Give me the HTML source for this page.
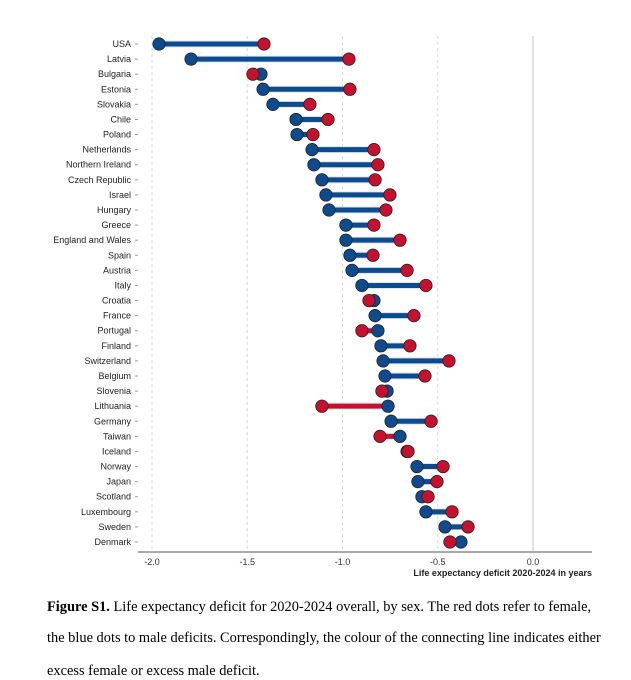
<!DOCTYPE html>
<html><head><meta charset="utf-8"><style>
body{margin:0;background:#fff;width:631px;height:677px;overflow:hidden;}
svg text{font-family:"Liberation Sans",sans-serif;}
.cap{position:absolute;left:47px;font-family:"Liberation Serif",serif;font-size:14.4px;color:#000;white-space:nowrap;}
</style></head><body>
<svg id="chart" width="631" height="590" style="position:absolute;left:0;top:0"></svg>
<div class="cap" style="top:599px"><b>Figure S1.</b> Life expectancy deficit for 2020-2024 overall, by sex. The red dots refer to female,</div>
<div class="cap" style="top:630px">the blue dots to male deficits. Correspondingly, the colour of the connecting line indicates either</div>
<div class="cap" style="top:663px">excess female or excess male deficit.</div>
<script>
const countries=["USA","Latvia","Bulgaria","Estonia","Slovakia","Chile","Poland","Netherlands","Northern Ireland","Czech Republic","Israel","Hungary","Greece","England and Wales","Spain","Austria","Italy","Croatia","France","Portugal","Finland","Switzerland","Belgium","Slovenia","Lithuania","Germany","Taiwan","Iceland","Norway","Japan","Scotland","Luxembourg","Sweden","Denmark"];
const male=[-1.963,-1.795,-1.428,-1.417,-1.365,-1.244,-1.239,-1.160,-1.150,-1.108,-1.087,-1.071,-0.982,-0.982,-0.961,-0.950,-0.898,-0.835,-0.829,-0.814,-0.798,-0.787,-0.777,-0.766,-0.761,-0.745,-0.698,-0.661,-0.609,-0.604,-0.583,-0.562,-0.462,-0.378];
const female=[-1.412,-0.966,-1.470,-0.961,-1.171,-1.076,-1.155,-0.835,-0.814,-0.829,-0.751,-0.772,-0.835,-0.698,-0.840,-0.661,-0.562,-0.861,-0.625,-0.898,-0.646,-0.441,-0.567,-0.793,-1.108,-0.535,-0.803,-0.656,-0.472,-0.504,-0.551,-0.425,-0.341,-0.436];
const ticks=[-2.0,-1.5,-1.0,-0.5,0.0];
const tickLabels=["-2.0","-1.5","-1.0","-0.5","0.0"];
const NS="http://www.w3.org/2000/svg";
const svg=document.getElementById('chart');
const xs=v=>533+v*190.5;
const ys=i=>44+i*(542-44)/(countries.length-1);
function mk(t,a,p){const e=document.createElementNS(NS,t);for(const k in a)e.setAttribute(k,a[k]);(p||svg).appendChild(e);return e;}
ticks.forEach((t,i)=>{
  const g=mk('line',{x1:xs(t),x2:xs(t),y1:36,y2:551,stroke:t===0?'#d0d0d0':'#d8d8d8','stroke-width':t===0?1.2:1,'stroke-dasharray':t===0?'':'3,3'});
  
  
  const tl=mk('text',{x:xs(t),y:565,'text-anchor':'middle','font-size':'9',fill:'#333'});
  tl.textContent=tickLabels[i];
  
  
});
const ax=mk('line',{x1:138,x2:592,y1:552,y2:552,stroke:'#555','stroke-width':1});


const at=mk('text',{x:592,y:576,'text-anchor':'end','font-size':'9','font-weight':'bold',fill:'#222'});
at.textContent='Life expectancy deficit 2020-2024 in years';


countries.forEach((c,i)=>{
  const y=ys(i);
  const lb=mk('text',{x:131,y:y+3,'text-anchor':'end','font-size':'9',fill:'#222'});
  lb.textContent=c;
  
  
  const tk=mk('line',{x1:135,x2:138,y1:y,y2:y,stroke:'#999'});
  
  
  const col=female[i]>male[i]?'#0c4b8e':'#c8102e';
  const x1=xs(male[i]),x2=xs(female[i]);
  const o=mk('line',{x1:x1,x2:x2,y1:y,y2:y,stroke:'#dde6f0','stroke-width':7});
  
  
  const l=mk('line',{x1:x1,x2:x2,y1:y,y2:y,stroke:col,'stroke-width':5});
  
  
  const m=mk('circle',{cx:x1,cy:y,r:6.2,fill:'#0c4b8e',stroke:'#222','stroke-width':0.8});
  
  
  const f=mk('circle',{cx:x2,cy:y,r:6.2,fill:'#c8102e',stroke:'#222','stroke-width':0.8});
  
  
});
</script>
</body></html>
